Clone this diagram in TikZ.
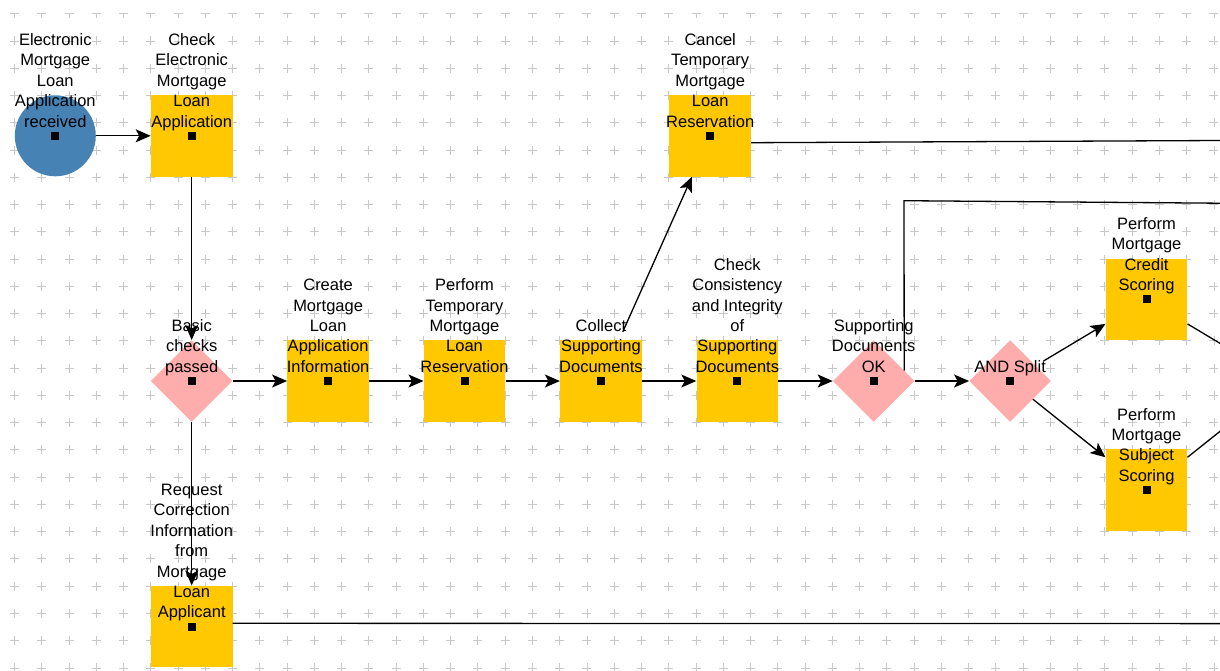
\documentclass[tikz,border=0pt]{standalone}
\usepackage{fontspec}
\setmainfont{Liberation Sans}
\usetikzlibrary{shapes.geometric,arrows.meta}

\definecolor{eventblue}{RGB}{70,130,180}
\definecolor{taskgold}{RGB}{255,200,0}
\definecolor{gatepink}{RGB}{255,172,172}
\definecolor{gridgrey}{RGB}{200,200,200}

\tikzset{
  task/.style={rectangle, fill=taskgold, minimum size=81.6pt, inner sep=0pt},
  gate/.style={diamond, aspect=1, fill=gatepink, minimum size=81.6pt, inner sep=0pt},
  event/.style={circle, fill=eventblue, minimum size=81pt, inner sep=0pt},
  flow/.style={line width=1.3pt, -{Stealth[length=15pt,width=13pt,inset=3.5pt]}},
  plainflow/.style={line width=1.3pt},
  caption/.style={anchor=south, inner sep=0pt, align=center,
    font=\fontsize{16.5}{20.4}\selectfont},
  marker/.style={rectangle, fill=black, minimum size=8pt, inner sep=0pt},
  gridmark/.style={gridgrey, line width=0.9pt}
}

\begin{document}
\begin{tikzpicture}[x=1pt,y=-1pt]
\clip (0,0) rectangle (1220,670);

% background grid of small crosses
\begin{scope}
  \clip (0,13.2) rectangle (1220,670);
  \foreach \i in {0,...,44}{
    \foreach \j in {0,...,24}{
      \draw[gridmark] (14.5+27.26*\i-4.5,13.7+27.26*\j) -- ++(9,0)
                      (14.5+27.26*\i,13.7+27.26*\j-4.5) -- ++(0,9);
    }
  }
\end{scope}

% process elements
\node[event] (start)    at (55.3,135.8)  {};
\node[task]  (check)    at (191.7,135.8) {};
\node[gate]  (basic)    at (191.7,381)   {};
\node[task]  (create)   at (328.1,381)   {};
\node[task]  (reserve)  at (464.5,381)   {};
\node[task]  (collect)  at (600.9,381)   {};
\node[task]  (consist)  at (737.3,381)   {};
\node[gate]  (docsok)   at (873.7,381)   {};
\node[gate]  (andsplit) at (1010.1,381)  {};
\node[task]  (credit)   at (1146.5,299.4) {};
\node[task]  (subject)  at (1146.5,490)  {};
\node[task]  (cancel)   at (710.2,135.8) {};
\node[task]  (request)  at (191.7,626.5) {};

% continuation points beyond the right edge
\coordinate (join)       at (1283,381);
\coordinate (cancelout)  at (1220,140.5);
\coordinate (requestout) at (1220,623.6);
\coordinate (okbend)     at (904,200.7);
\coordinate (okout)      at (1220,203.2);

% sequence flows
\draw[flow] (start) -- (check);
\draw[flow] (check) -- (basic);
\draw[flow] (basic) -- (create);
\draw[flow] (create) -- (reserve);
\draw[flow] (reserve) -- (collect);
\draw[flow] (collect) -- (consist);
\draw[flow] (consist) -- (docsok);
\draw[flow] (docsok) -- (andsplit);
\draw[flow] (basic) -- (request);
\draw[flow, shorten <=9pt] (collect) -- (cancel);
\draw[flow, shorten <=9pt] (andsplit) -- (credit);
\draw[flow] (andsplit) -- (subject);
\draw[plainflow] (credit) -- (join);
\draw[plainflow] (subject) -- (join);
\draw[plainflow] ([yshift=-6.9pt]cancel.east) -- (cancelout);
\draw[plainflow] ([yshift=3.2pt]request.east) -- (requestout);
\draw[plainflow] (docsok.19.3) -- (okbend) -- (okout);

% captions
\node[caption] (startcap)    at ([yshift=2.3pt]start.center)    {Electronic\\Mortgage\\Loan\\Application\\received\strut};
\node[caption] (checkcap)    at ([yshift=2.3pt]check.center)    {Check\\Electronic\\Mortgage\\Loan\\Application\strut};
\node[caption] (basiccap)    at ([yshift=2.3pt]basic.center)    {Basic\\checks\\passed\strut};
\node[caption] (createcap)   at ([yshift=2.3pt]create.center)   {Create\\Mortgage\\Loan\\Application\\Information\strut};
\node[caption] (reservecap)  at ([yshift=2.3pt]reserve.center)  {Perform\\Temporary\\Mortgage\\Loan\\Reservation\strut};
\node[caption] (collectcap)  at ([yshift=2.3pt]collect.center)  {Collect\\Supporting\\Documents\strut};
\node[caption] (consistcap)  at ([yshift=2.3pt]consist.center)  {Check\\Consistency\\and Integrity\\of\\Supporting\\Documents\strut};
\node[caption] (docsokcap)   at ([yshift=2.3pt]docsok.center)   {Supporting\\Documents\\OK\strut};
\node[caption] (andsplitcap) at ([yshift=2.3pt]andsplit.center) {AND Split\strut};
\node[caption] (creditcap)   at ([yshift=2.3pt]credit.center)   {Perform\\Mortgage\\Credit\\Scoring\strut};
\node[caption] (subjectcap)  at ([yshift=2.3pt]subject.center)  {Perform\\Mortgage\\Subject\\Scoring\strut};
\node[caption] (cancelcap)   at ([yshift=2.3pt]cancel.center)   {Cancel\\Temporary\\Mortgage\\Loan\\Reservation\strut};
\node[caption] (requestcap)  at ([yshift=2.3pt]request.center)  {Request\\Correction\\Information\\from\\Mortgage\\Loan\\Applicant\strut};

% centre markers
\foreach \n in {start,check,basic,create,reserve,collect,consist,docsok,andsplit,credit,subject,cancel,request}{
  \node[marker] (\n dot) at (\n.center) {};
}
\end{tikzpicture}
\end{document}
